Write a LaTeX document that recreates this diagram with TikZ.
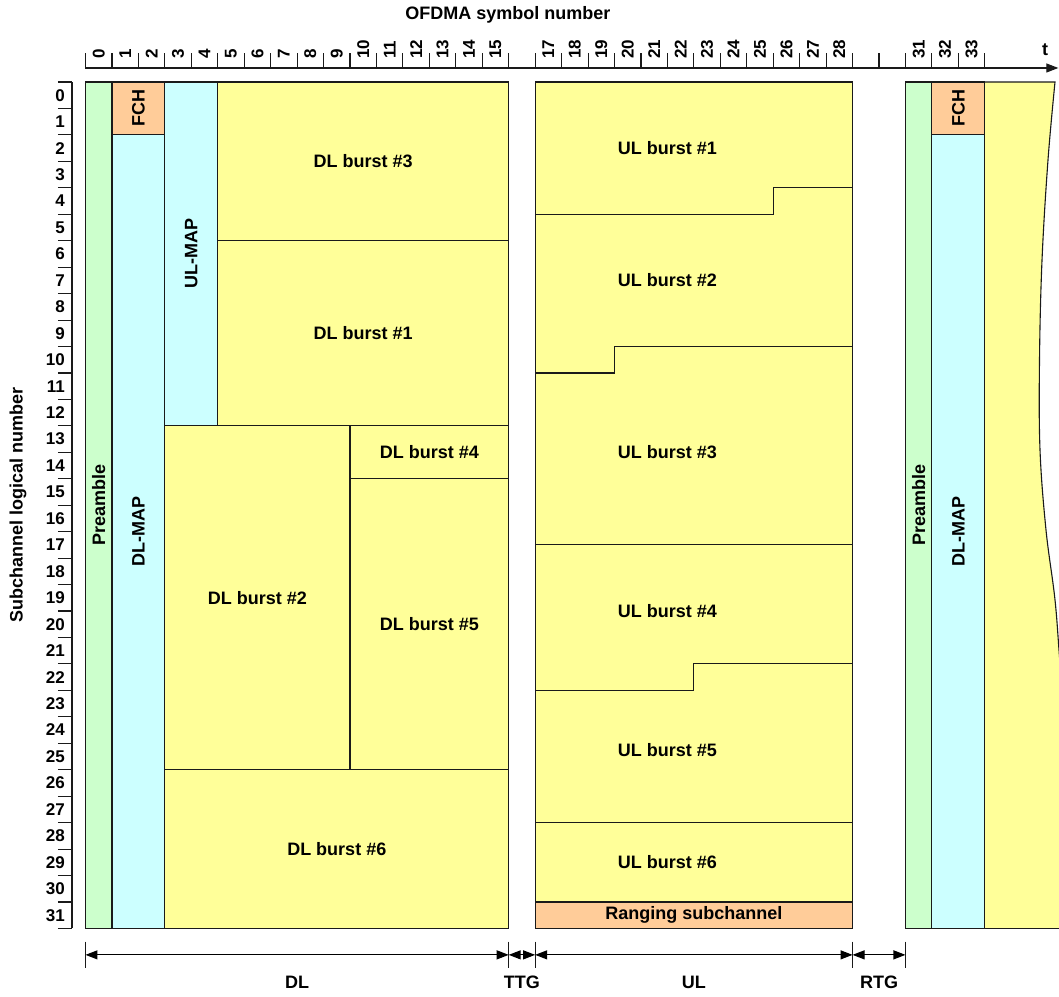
\documentclass[tikz,border=0pt]{standalone}
\usepackage{fontspec}
\setmainfont{Liberation Sans}
\usetikzlibrary{arrows.meta}
\definecolor{pre}{HTML}{CCFFCC}
\definecolor{map}{HTML}{CCFFFF}
\definecolor{bur}{HTML}{FFFF99}
\definecolor{fch}{HTML}{FFCC99}
\definecolor{edge}{HTML}{1A1A1A}
\begin{document}
\begin{tikzpicture}[x=26.45pt,y=-26.45pt,
  blk/.style={draw=edge,line width=1.1pt,line join=miter},
  lbl/.style={font=\fontsize{18}{20}\selectfont\bfseries, inner sep=0pt},
  vlbl/.style={lbl,rotate=90},
  num/.style={font=\fontsize{17}{19}\selectfont\bfseries, inner sep=0pt},
  axis/.style={line width=1.1pt, draw=edge},
  tip/.tip={Triangle[length=12pt,width=9pt]},
  dim/.style={line width=1.1pt, tip-tip},
]
\useasboundingbox (-3.2325,-3.1002) rectangle (36.805,34.556);
\clip (-3.2325,-3.1002) rectangle (36.805,34.556);

% ---------- DL subframe ----------
\filldraw[blk,fill=pre] (0,0) rectangle (1,32);
\filldraw[blk,fill=fch] (1,0) rectangle (3,2);
\filldraw[blk,fill=map] (1,2) rectangle (3,32);
\filldraw[blk,fill=map] (3,0) rectangle (5,13);
\filldraw[blk,fill=bur] (5,0) rectangle (16,6);
\filldraw[blk,fill=bur] (5,6) rectangle (16,13);
\filldraw[blk,fill=bur] (3,13) rectangle (10,26);
\filldraw[blk,fill=bur] (10,13) rectangle (16,15);
\filldraw[blk,fill=bur] (10,15) rectangle (16,26);
\filldraw[blk,fill=bur] (3,26) rectangle (16,32);

% ---------- UL subframe ----------
\filldraw[blk,fill=bur] (17,0) -- (29,0) -- (29,4) -- (26,4) -- (26,5) -- (17,5) -- cycle;
\filldraw[blk,fill=bur] (17,5) -- (26,5) -- (26,4) -- (29,4) -- (29,10) -- (20,10) -- (20,11) -- (17,11) -- cycle;
\filldraw[blk,fill=bur] (17,11) -- (20,11) -- (20,10) -- (29,10) -- (29,17.5) -- (17,17.5) -- cycle;
\filldraw[blk,fill=bur] (17,17.5) -- (29,17.5) -- (29,22) -- (23,22) -- (23,23) -- (17,23) -- cycle;
\filldraw[blk,fill=bur] (17,23) -- (23,23) -- (23,22) -- (29,22) -- (29,28) -- (17,28) -- cycle;
\filldraw[blk,fill=bur] (17,28) rectangle (29,31);
\filldraw[blk,fill=fch] (17,31) rectangle (29,32);

% ---------- next frame ----------
\filldraw[blk,fill=pre] (31,0) rectangle (32,32);
\filldraw[blk,fill=fch] (32,0) rectangle (34,2);
\filldraw[blk,fill=map] (32,2) rectangle (34,32);
\fill[bur] (34,0) -- plot[smooth,tension=0.6] coordinates {(36.654,0) (36.389,2.949) (36.163,6.730) (36.068,10.51) (36.087,13.91) (36.314,16.94) (36.654,19.58) (36.843,21.97) (37.146,25.63)} -- (37.5,32) -- (34,32) -- cycle;
\draw[blk] (34,0) -- plot[smooth,tension=0.6] coordinates {(36.654,0) (36.389,2.949) (36.163,6.730) (36.068,10.51) (36.087,13.91) (36.314,16.94) (36.654,19.58) (36.843,21.97) (37.146,25.63)};
\draw[blk] (34,32) -- (37.5,32);
\draw[blk] (34,0) -- (34,32);

% ---------- block labels ----------
\node[vlbl] (preL)   at (0.5,16)  {Preamble};
\node[vlbl] (fchL)   at (2,1)     {FCH};
\node[vlbl] (dlmapL) at (2,17)    {DL-MAP};
\node[vlbl] (ulmapL) at (4,6.5)   {UL-MAP};
\node[lbl]  (dl3)    at (10.5,3)  {DL burst \#3};
\node[lbl]  (dl1)    at (10.5,9.5){DL burst \#1};
\node[lbl]  (dl2)    at (6.5,19.5){DL burst \#2};
\node[lbl]  (dl4)    at (13,14)   {DL burst \#4};
\node[lbl]  (dl5)    at (13,20.5) {DL burst \#5};
\node[lbl]  (dl6)    at (9.5,29)  {DL burst \#6};
\node[lbl]  (ul1)    at (22,2.5)  {UL burst \#1};
\node[lbl]  (ul2)    at (22,7.5)  {UL burst \#2};
\node[lbl]  (ul3)    at (22,14)   {UL burst \#3};
\node[lbl]  (ul4)    at (22,20)   {UL burst \#4};
\node[lbl]  (ul5)    at (22,25.25){UL burst \#5};
\node[lbl]  (ul6)    at (22,29.5) {UL burst \#6};
\node[lbl]  (rng)    at (23,31.5) {Ranging subchannel};
\node[vlbl] (preR)   at (31.5,16) {Preamble};
\node[vlbl] (fchR)   at (33,1)    {FCH};
\node[vlbl] (dlmapR) at (33,17)   {DL-MAP};

% ---------- left axis ----------
\draw[axis] (-0.51,0) -- (-0.51,32);
\foreach \i in {0,...,32} \draw[axis] (-1.04,\i) -- (-0.51,\i);
\foreach \i in {0,...,31} \node[num,anchor=east] (r\i) at (-0.775,\i+0.5) {\i};
\node[lbl,rotate=90] (ylab) at (-2.55,15.99) {Subchannel logical number};

% ---------- top axis ----------
\draw[axis,-tip] (0,-0.53) -- (36.78,-0.53);
\foreach \i in {0,...,34} \draw[axis] (\i,-0.53) -- (\i,-1.1);
\foreach \i in {0,...,15} \node[num,rotate=90,anchor=west] (c\i) at (\i+0.5,-0.87) {\i};
\foreach \i in {17,...,28} \node[num,rotate=90,anchor=west] (c\i) at (\i+0.5,-0.87) {\i};
\foreach \i in {31,32,33} \node[num,rotate=90,anchor=west] (c\i) at (\i+0.5,-0.87) {\i};
\node[lbl] (tlab) at (36.28,-1.21) {t};
\node[lbl] (xlab) at (15.97,-2.53) {OFDMA symbol number};

% ---------- bottom dimension arrows ----------
\foreach \i in {0,16,17,29,31} {
  \coordinate (m\i) at (\i,33.0);
  \draw[line width=1pt,draw=edge] (\i,32.5) -- (\i,33.5);
}
\draw[dim] (m0) -- (m16);
\draw[dim] (m16) -- (m17);
\draw[dim] (m17) -- (m29);
\draw[dim] (m29) -- (m31);
\node[lbl] (dlB)  at (8,34.03)    {DL};
\node[lbl] (ttgB) at (16.5,34.03) {TTG};
\node[lbl] (ulB)  at (23,34.03)   {UL};
\node[lbl] (rtgB) at (30,34.03)   {RTG};
\end{tikzpicture}
\end{document}
